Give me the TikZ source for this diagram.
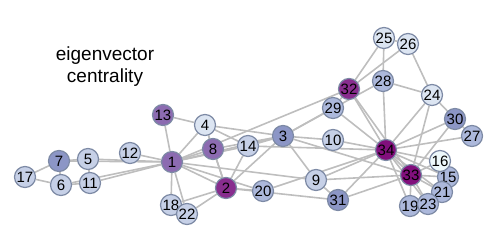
\documentclass[tikz,border=0pt]{standalone}
\usepackage{fontspec}
\setmainfont{Liberation Sans}
\usepackage{tikz}
\usetikzlibrary{backgrounds}
\definecolor{PurA}{RGB}{129,15,124}
\definecolor{PurB}{RGB}{136,45,142}
\definecolor{PurC}{RGB}{140,107,177}
\definecolor{BluD}{RGB}{140,150,198}
\definecolor{BluE}{RGB}{172,184,219}
\definecolor{BluF}{RGB}{198,208,231}
\definecolor{BluG}{RGB}{220,229,242}
\definecolor{BluH}{RGB}{237,248,251}
\definecolor{Rim}{RGB}{125,138,165}
\definecolor{Link}{RGB}{190,190,190}

\begin{document}
\begin{tikzpicture}[x=1pt,y=-1pt,
  vtx/.style={circle,draw=Rim,line width=1.2pt,minimum size=21pt,inner sep=0pt,
    font=\fontsize{15}{15}\selectfont},
  edg/.style={draw=Link,line width=1.6pt}
]
\useasboundingbox (0,0) rectangle (498,249);
\node[align=center,font=\fontsize{19}{22}\selectfont] (title) at (105,67) {eigenvector\\centrality};

% members of the club
\foreach \n/\x/\y/\c in {1/172/162/PurC,2/226/188/PurB,3/283/136/BluD,4/205/125/BluG,
  5/88/159/BluF,6/61/185/BluF,7/59/161/BluD,8/213/149/PurC,9/316/180/BluF,
  10/333/140/BluF,11/90/183/BluF,12/130/153/BluF,13/163/115/PurC,14/248/146/BluF,
  15/448/177/BluE,16/440/161/BluH,17/25/177/BluF,18/171/205/BluF,19/410/206/BluE,
  20/263/191/BluE,21/442/192/BluE,22/187/214/BluF,23/428/204/BluE,24/432/95/BluG,
  25/384/38/BluG,26/408/44/BluG,27/472/136/BluE,28/383/81/BluE,29/333/108/BluE,
  30/455/119/BluD,31/338/200/BluD,32/349/89/PurB,33/411/175/PurA,34/386/150/PurA}
  \node[vtx,fill=\c] (n\n) at (\x,\y) {\n};

% ties
\begin{scope}[on background layer]
\foreach \a/\b in {1/2,1/3,1/4,1/5,1/6,1/7,1/8,1/9,1/11,1/12,1/13,1/14,1/18,1/20,1/22,1/32,
  2/3,2/4,2/8,2/14,2/18,2/20,2/22,2/31,3/4,3/8,3/9,3/10,3/14,3/28,3/29,3/33,
  4/8,4/13,4/14,5/7,5/11,6/7,6/11,6/17,7/17,9/31,9/33,9/34,10/34,14/34,
  15/33,15/34,16/33,16/34,19/33,19/34,20/34,21/33,21/34,23/33,23/34,
  24/26,24/28,24/30,24/33,24/34,25/26,25/28,25/32,26/32,27/30,27/34,28/34,
  29/32,29/34,30/33,30/34,31/33,31/34,32/33,32/34,33/34}
  \draw[edg] (n\a) -- (n\b);
\end{scope}
\end{tikzpicture}
\end{document}
